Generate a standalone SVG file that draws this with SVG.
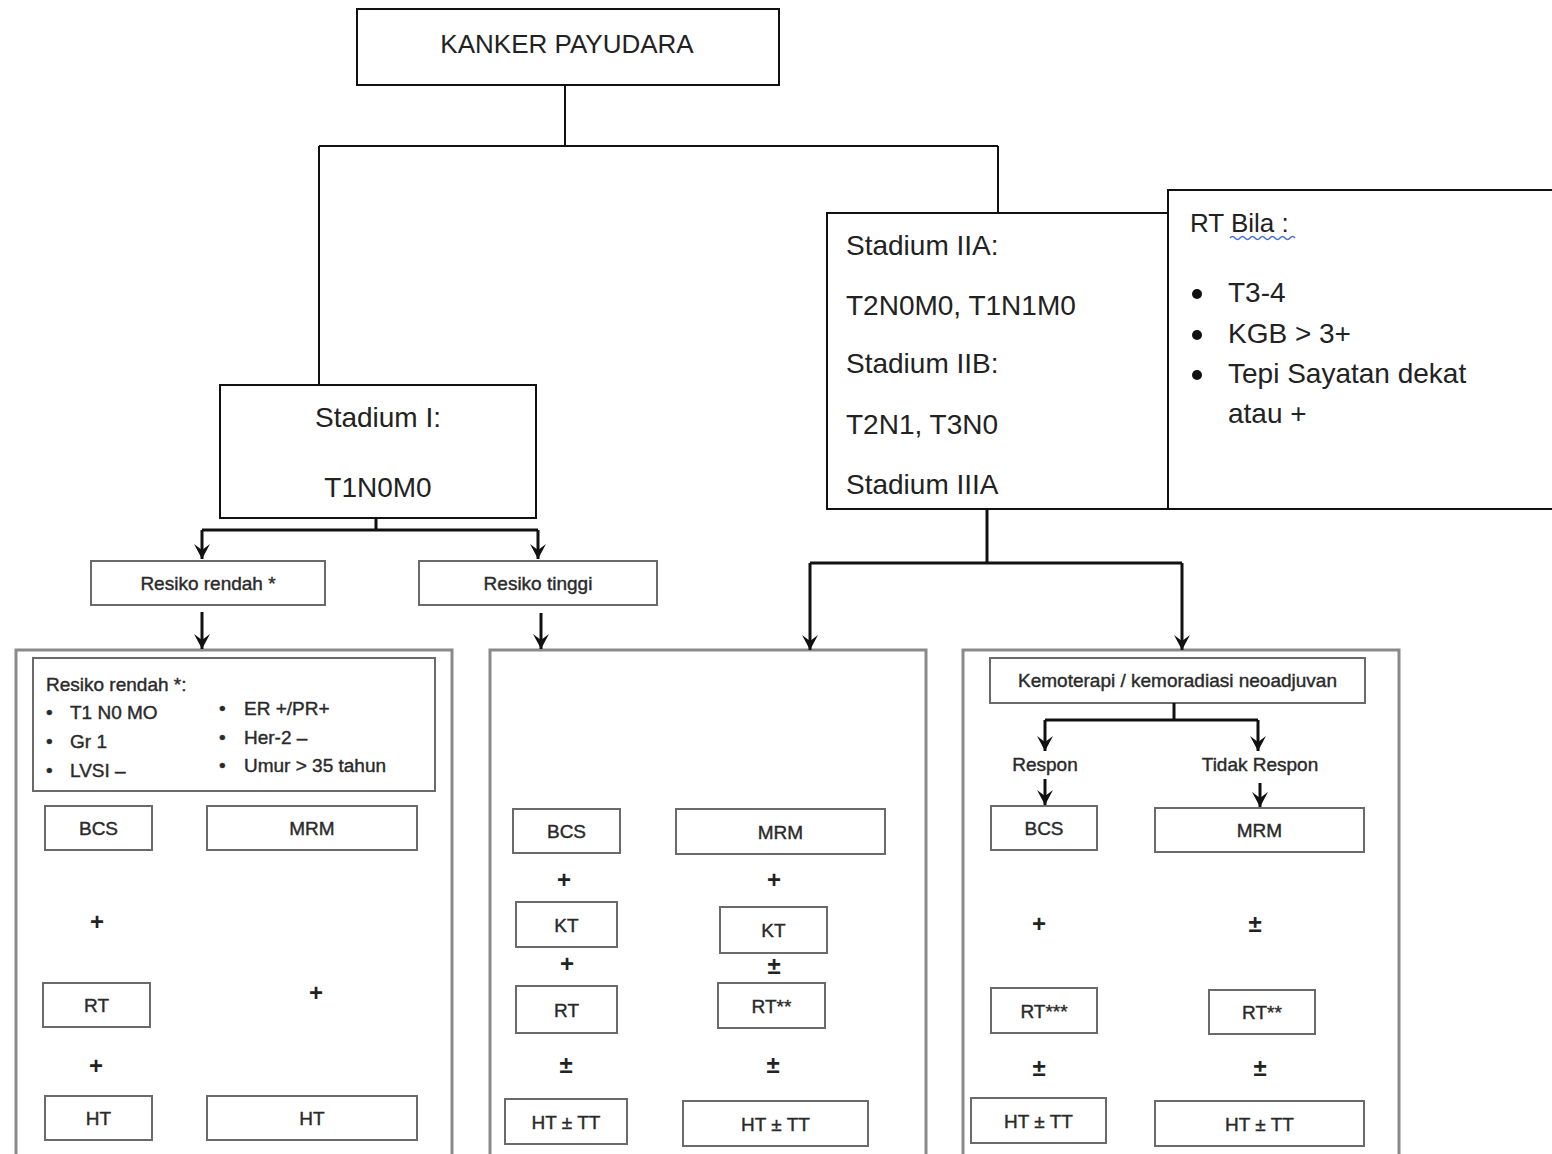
<svg xmlns="http://www.w3.org/2000/svg" width="1552" height="1154" viewBox="0 0 1552 1154">
<defs>
<marker id="arr" markerUnits="userSpaceOnUse" viewBox="0 0 16 16" markerWidth="16" markerHeight="16" refX="15" refY="8" orient="auto">
<path d="M0,0 L6,8 L0,16 L15,8 z" fill="#111"/>
</marker>
<style>
.big{fill:#fff;stroke:#111;stroke-width:2}
.outer{fill:#fff;stroke:#8a8a8a;stroke-width:3}
.sm{fill:#fff;stroke:#6a6a6a;stroke-width:2}
.tL{font-family:"Liberation Sans",Arial,sans-serif;font-size:28px;fill:#222}
.tS{font-family:"Liberation Sans",Arial,sans-serif;font-size:19px;fill:#2a2a2a;stroke:#2a2a2a;stroke-width:0.4}
.tB{font-family:"Liberation Sans",Arial,sans-serif;font-size:19px;fill:#2a2a2a;stroke:#2a2a2a;stroke-width:0.4;text-anchor:middle}
.op{font-family:"Liberation Sans",Arial,sans-serif;font-size:24px;font-weight:bold;fill:#222;text-anchor:middle}
.c{text-anchor:middle}
.thin{fill:none;stroke:#111;stroke-width:2}
.thick{fill:none;stroke:#111;stroke-width:3}
.arw{fill:none;stroke:#111;stroke-width:3;marker-end:url(#arr)}
</style>
</defs>
<rect width="1552" height="1154" fill="#fff"/>

<g id="kanker">
<rect class="big" x="357" y="9" width="422" height="76"/>
<text class="tL c" x="567" y="53" style="font-size:26px">KANKER PAYUDARA</text>
</g>

<g id="stadium1">
<rect class="big" x="220" y="385" width="316" height="133"/>
<text class="tL c" x="378" y="427">Stadium I:</text>
<text class="tL c" x="378" y="497">T1N0M0</text>
</g>

<g id="rtbila">
<rect class="big" x="1168" y="190" width="400" height="319"/>
<text class="tL" x="1190" y="232" style="font-size:26px">RT Bila :</text>
<path d="M1230,238 q2.5,-3 5,0 t5,0 t5,0 t5,0 t5,0 t5,0 t5,0 t5,0 t5,0 t5,0 t5,0 t5,0 t5,0" fill="none" stroke="#4a6fd6" stroke-width="1.5"/>
<circle cx="1197" cy="294" r="5" fill="#111"/>
<circle cx="1197" cy="335" r="5" fill="#111"/>
<circle cx="1197" cy="375" r="5" fill="#111"/>
<text class="tL" x="1228" y="302">T3-4</text>
<text class="tL" x="1228" y="343">KGB &gt; 3+</text>
<text class="tL" x="1228" y="383">Tepi Sayatan dekat</text>
<text class="tL" x="1228" y="423">atau +</text>
</g>

<g id="stadium2">
<rect class="big" x="827" y="213" width="341" height="296"/>
<text class="tL" x="846" y="255">Stadium IIA:</text>
<text class="tL" x="846" y="315">T2N0M0, T1N1M0</text>
<text class="tL" x="846" y="373">Stadium IIB:</text>
<text class="tL" x="846" y="434">T2N1, T3N0</text>
<text class="tL" x="846" y="494">Stadium IIIA</text>
</g>

<g id="resiko-rendah">
<rect class="sm" x="91" y="561" width="234" height="44"/>
<text class="tS c" x="208" y="590">Resiko rendah *</text>
</g>
<g id="resiko-tinggi">
<rect class="sm" x="419" y="561" width="238" height="44"/>
<text class="tS c" x="538" y="590">Resiko tinggi</text>
</g>

<g id="panel-rendah">
<rect class="outer" x="16" y="650" width="436" height="520"/>
<rect class="sm" x="33" y="658" width="402" height="133"/>
<text class="tS" x="46" y="691">Resiko rendah *:</text>
<text class="tS" x="46" y="719">•</text><text class="tS" x="70" y="719">T1 N0 MO</text>
<text class="tS" x="46" y="748">•</text><text class="tS" x="70" y="748">Gr 1</text>
<text class="tS" x="46" y="777">•</text><text class="tS" x="70" y="777">LVSI –</text>
<text class="tS" x="219" y="715">•</text><text class="tS" x="244" y="715">ER +/PR+</text>
<text class="tS" x="219" y="744">•</text><text class="tS" x="244" y="744">Her-2 –</text>
<text class="tS" x="219" y="772">•</text><text class="tS" x="244" y="772">Umur &gt; 35 tahun</text>
<rect class="sm" x="45" y="806" width="107" height="44"/><text class="tB" x="98.5" y="835">BCS</text>
<rect class="sm" x="207" y="806" width="210" height="44"/><text class="tB" x="312" y="835">MRM</text>
<text class="op" x="97" y="930">+</text>
<rect class="sm" x="43" y="983" width="107" height="44"/><text class="tB" x="96.5" y="1012">RT</text>
<text class="op" x="316" y="1001">+</text>
<text class="op" x="96" y="1074">+</text>
<rect class="sm" x="45" y="1096" width="107" height="44"/><text class="tB" x="98.5" y="1125">HT</text>
<rect class="sm" x="207" y="1096" width="210" height="44"/><text class="tB" x="312" y="1125">HT</text>
</g>

<g id="panel-tinggi">
<rect class="outer" x="490" y="650" width="436" height="520"/>
<rect class="sm" x="513" y="809" width="107" height="44"/><text class="tB" x="566.5" y="838">BCS</text>
<rect class="sm" x="676" y="809" width="209" height="45"/><text class="tB" x="780.5" y="839">MRM</text>
<text class="op" x="564" y="888">+</text>
<text class="op" x="774" y="888">+</text>
<rect class="sm" x="516" y="902" width="101" height="45"/><text class="tB" x="566.5" y="932">KT</text>
<rect class="sm" x="720" y="907" width="107" height="46"/><text class="tB" x="773.5" y="937">KT</text>
<text class="op" x="567" y="972">+</text>
<text class="op" x="774" y="974">±</text>
<rect class="sm" x="516" y="986" width="101" height="47"/><text class="tB" x="566.5" y="1017">RT</text>
<rect class="sm" x="718" y="983" width="107" height="45"/><text class="tB" x="771.5" y="1013">RT**</text>
<text class="op" x="566" y="1073">±</text>
<text class="op" x="773" y="1073">±</text>
<rect class="sm" x="505" y="1099" width="122" height="45"/><text class="tB" x="566" y="1129">HT ± TT</text>
<rect class="sm" x="683" y="1101" width="185" height="45"/><text class="tB" x="775.5" y="1131">HT ± TT</text>
</g>

<g id="panel-neo">
<rect class="outer" x="963" y="650" width="436" height="520"/>
<rect class="sm" x="990" y="658" width="375" height="45"/><text class="tS c" x="1177.5" y="687">Kemoterapi / kemoradiasi neoadjuvan</text>
<text class="tS c" x="1045" y="771">Respon</text>
<text class="tS c" x="1260" y="771">Tidak Respon</text>
<rect class="sm" x="991" y="806" width="106" height="44"/><text class="tB" x="1044" y="835">BCS</text>
<rect class="sm" x="1155" y="808" width="209" height="44"/><text class="tB" x="1259.5" y="837">MRM</text>
<text class="op" x="1039" y="932">+</text>
<text class="op" x="1255" y="932">±</text>
<rect class="sm" x="991" y="988" width="106" height="45"/><text class="tB" x="1044" y="1018">RT***</text>
<rect class="sm" x="1209" y="990" width="106" height="44"/><text class="tB" x="1262" y="1019">RT**</text>
<text class="op" x="1039" y="1076">±</text>
<text class="op" x="1260" y="1076">±</text>
<rect class="sm" x="971" y="1098" width="135" height="45"/><text class="tB" x="1038.5" y="1128">HT ± TT</text>
<rect class="sm" x="1155" y="1101" width="209" height="45"/><text class="tB" x="1259.5" y="1131">HT ± TT</text>
</g>

<g id="connectors">
<path class="thin" d="M565,86 V146 M319,146 H998 M319,146 V385 M998,146 V213"/>
<path class="thick" d="M376,518 V530 M202,530 H538"/>
<path class="arw" d="M202,530 V559"/>
<path class="arw" d="M538,530 V559"/>
<path class="arw" d="M202,612 V649"/>
<path class="arw" d="M541,613 V649"/>
<path class="thick" d="M987,509 V563 M810,563 H1182"/>
<path class="arw" d="M810,563 V650"/>
<path class="arw" d="M1182,563 V650"/>
<path class="thick" d="M1174,703 V720 M1045,720 H1258"/>
<path class="arw" d="M1045,720 V751"/>
<path class="arw" d="M1258,720 V751"/>
<path class="arw" d="M1045,779 V805"/>
<path class="arw" d="M1260,783 V807"/>
</g>
</svg>
